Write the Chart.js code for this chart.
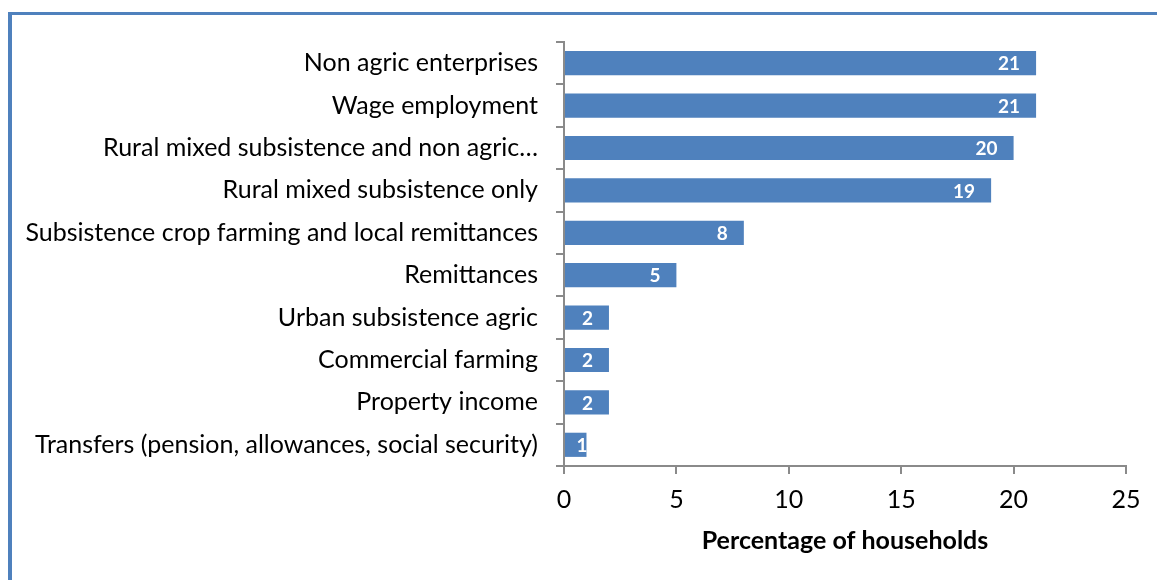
<!DOCTYPE html>
<html>
<head>
<meta charset="utf-8">
<script src="https://cdn.jsdelivr.net/npm/chart.js@4"></script>
<style>
  html, body { margin: 0; padding: 0; background: #fff; }
  #wrap { position: relative; width: 1157px; height: 580px; }
  #frame {
    position: absolute; left: 8px; top: 12px; right: 0; bottom: 0;
    border-left: 4px solid #4F81BD; border-top: 3px solid #4F81BD;
  }
  canvas { position: absolute; left: 0; top: 0; }
</style>
</head>
<body>
<div id="wrap">
  <div id="frame"></div>
  <canvas id="chart" width="1157" height="580"></canvas>
</div>
<script>
const categories = [
  'Non agric enterprises',
  'Wage employment',
  'Rural mixed subsistence and non agric…',
  'Rural mixed subsistence only',
  'Subsistence crop farming and local remittances',
  'Remittances',
  'Urban subsistence agric',
  'Commercial farming',
  'Property income',
  'Transfers (pension, allowances, social security)'
]
const householdShare = [21, 21, 20, 19, 8, 5, 2, 2, 2, 1]
const xMin = 0
const xMax = 25
const xStep = 5

const FONT = 'Lato, Calibri, Carlito, sans-serif'
const AXIS_GREY = '#8a8a8a'

// white values written inside the end of each bar
const barValueLabels = {
  id: 'barValueLabels',
  afterDatasetsDraw(chart) {
    const ctx = chart.ctx
    const meta = chart.getDatasetMeta(0)
    ctx.save()
    ctx.font = 'bold 19px ' + FONT
    ctx.fillStyle = '#ffffff'
    ctx.textBaseline = 'middle'
    ctx.textAlign = 'right'
    meta.data.forEach((bar, i) => {
      const text = String(chart.data.datasets[0].data[i])
      const w = ctx.measureText(text).width
      let right = bar.x - 16
      if (right - w < bar.base + 4) right = bar.x + 1
      ctx.fillText(text, right, bar.y + 1)
    })
    ctx.restore()
  }
}

new Chart(document.getElementById('chart').getContext('2d'), {
  type: 'bar',
  data: {
    labels: categories,
    datasets: [{
      data: householdShare,
      backgroundColor: '#4F81BD',
      borderWidth: 0,
      barPercentage: 0.57,
      categoryPercentage: 1
    }]
  },
  options: {
    indexAxis: 'y',
    responsive: false,
    animation: false,
    layout: { padding: { top: 42, right: 31, left: 0, bottom: 0 } },
    plugins: {
      legend: { display: false },
      tooltip: { enabled: false }
    },
    scales: {
      y: {
        afterFit(scale) { scale.width = 564 },
        border: { color: AXIS_GREY, width: 2 },
        grid: { drawOnChartArea: false, color: AXIS_GREY, lineWidth: 2, tickLength: 8 },
        ticks: { color: '#000', padding: 18, font: { family: FONT, size: 25 } }
      },
      x: {
        min: xMin,
        max: xMax,
        afterFit(scale) { scale.height = 114 },
        border: { color: AXIS_GREY, width: 2 },
        grid: { drawOnChartArea: false, color: AXIS_GREY, lineWidth: 2, tickLength: 8 },
        ticks: { stepSize: xStep, color: '#000', padding: 11, font: { family: FONT, size: 25 } },
        title: {
          display: true,
          text: 'Percentage of households',
          color: '#000',
          font: { family: FONT, size: 25, weight: 'bold' },
          padding: { top: 0, bottom: 24 }
        }
      }
    }
  },
  plugins: [barValueLabels]
})
</script>
</body>
</html>
